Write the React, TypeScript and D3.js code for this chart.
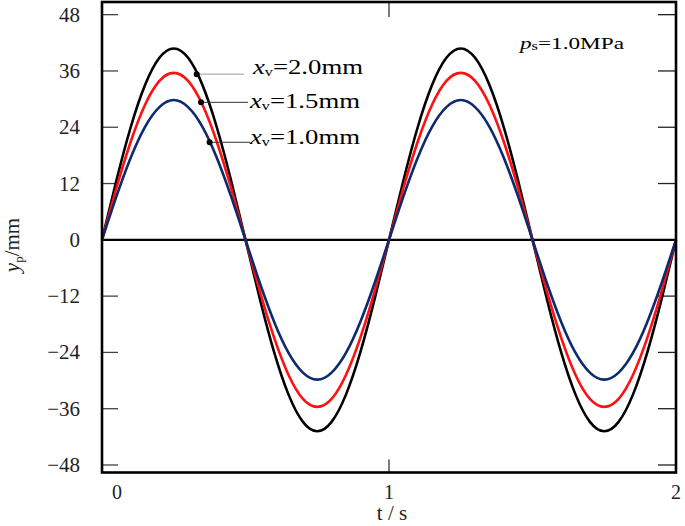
import React from "react";
import * as d3 from "d3";

const tValues = [
  0, 0.05, 0.1, 0.15, 0.2, 0.25, 0.3, 0.35, 0.4, 0.45, 0.5, 0.55, 0.6, 0.65, 0.7, 0.75, 0.8, 0.85, 0.9, 0.95,
  1, 1.05, 1.1, 1.15, 1.2, 1.25, 1.3, 1.35, 1.4, 1.45, 1.5, 1.55, 1.6, 1.65, 1.7, 1.75, 1.8, 1.85, 1.9, 1.95, 2,
];
const ySeries20 = [
  0, 12.6, 24.0, 33.0, 38.8, 40.8, 38.8, 33.0, 24.0, 12.6, 0, -12.6, -24.0, -33.0, -38.8, -40.8, -38.8, -33.0, -24.0, -12.6,
  0, 12.6, 24.0, 33.0, 38.8, 40.8, 38.8, 33.0, 24.0, 12.6, 0, -12.6, -24.0, -33.0, -38.8, -40.8, -38.8, -33.0, -24.0, -12.6, 0,
];
const ySeries15 = [
  0, 11.0, 20.9, 28.8, 33.9, 35.6, 33.9, 28.8, 20.9, 11.0, 0, -11.0, -20.9, -28.8, -33.9, -35.6, -33.9, -28.8, -20.9, -11.0,
  0, 11.0, 20.9, 28.8, 33.9, 35.6, 33.9, 28.8, 20.9, 11.0, 0, -11.0, -20.9, -28.8, -33.9, -35.6, -33.9, -28.8, -20.9, -11.0, 0,
];
const ySeries10 = [
  0, 9.2, 17.5, 24.1, 28.3, 29.8, 28.3, 24.1, 17.5, 9.2, 0, -9.2, -17.5, -24.1, -28.3, -29.8, -28.3, -24.1, -17.5, -9.2,
  0, 9.2, 17.5, 24.1, 28.3, 29.8, 28.3, 24.1, 17.5, 9.2, 0, -9.2, -17.5, -24.1, -28.3, -29.8, -28.3, -24.1, -17.5, -9.2, 0,
];
const seriesNames = ["2.0mm", "1.5mm", "1.0mm"];
const seriesColors = ["#000000", "#ff1010", "#0c2a6e"];
const dotT = [0.33, 0.345, 0.375];
const yTicks = [-48, -36, -24, -12, 0, 12, 24, 36, 48];
const xTicks = [0, 1, 2];

const W = 685;
const H = 526;
const left = 102;
const right = 676;
const top = 2;
const bottom = 472.5;

export default function App() {
  const x = d3.scaleLinear().domain([0, 2]).range([left, right]);
  const y = d3.scaleLinear().domain([-49.6, 50.7]).range([bottom, top]);
  const line = d3
    .line<number>()
    .x((_, i) => x(tValues[i]))
    .y((d) => y(d))
    .curve(d3.curveNatural);
  const all = [ySeries20, ySeries15, ySeries10];
  const interp = (s: number[], t: number) => {
    const i = Math.min(Math.floor(t / 0.05), tValues.length - 2);
    const f = (t - tValues[i]) / (tValues[i + 1] - tValues[i]);
    return s[i] + (s[i + 1] - s[i]) * f;
  };
  const lineEnds = [244, 248, 250];
  const textX = [253, 250, 250];
  const textY = [74, 108, 144];
  const leaderColor = ["#9a9a9a", "#333", "#333"];
  const serif = "'Liberation Serif', 'Times New Roman', serif";

  return (
    <svg width={W} height={H} style={{ position: "absolute", left: 0, top: 0, background: "#fff" }} fontFamily={serif}>
      {yTicks.map((v) => (
        <g key={"yt" + v}>
          <line x1={left} x2={left + 16} y1={y(v)} y2={y(v)} stroke="#444" strokeWidth={1.3} />
          <line x1={right - 18} x2={right} y1={y(v)} y2={y(v)} stroke="#222" strokeWidth={1.3} />
          <text x={80} y={y(v) + 7} textAnchor="end" fontSize={21} fill="#222">
            {v < 0 ? "\u2212" + Math.abs(v) : String(v)}
          </text>
        </g>
      ))}
      {xTicks.map((v) => (
        <g key={"xt" + v}>
          <line x1={x(v)} x2={x(v)} y1={bottom} y2={bottom - 13} stroke="#333" strokeWidth={1.3} />
          <line x1={x(v)} x2={x(v)} y1={top} y2={top + 15} stroke="#333" strokeWidth={1.3} />
          <text x={x(v) + (v === 0 ? 15 : 0)} y={499} textAnchor="middle" fontSize={20} fill="#222">
            {String(v)}
          </text>
        </g>
      ))}
      <line x1={left} x2={right} y1={y(0)} y2={y(0)} stroke="#000" strokeWidth={2.2} />
      {all.map((s, k) => (
        <path key={"c" + k} d={line(s) || ""} fill="none" stroke={seriesColors[k]} strokeWidth={2.6} />
      ))}
      <rect x={left} y={top} width={right - left} height={bottom - top} fill="none" stroke="#000" strokeWidth={2.6} />
      {all.map((s, k) => {
        const cx = x(dotT[k]);
        const cy = y(interp(s, dotT[k]));
        return (
          <g key={"a" + k}>
            <line x1={cx} x2={lineEnds[k]} y1={cy} y2={cy} stroke={leaderColor[k]} strokeWidth={1} />
            <circle cx={cx} cy={cy} r={3} fill="#000" />
            <text x={textX[k]} y={textY[k]} fontSize={20} fill="#000" textLength={110} lengthAdjust="spacingAndGlyphs">
              <tspan fontStyle="italic">x</tspan>
              <tspan fontSize={12} dy={2}>v</tspan>
              <tspan dy={-2}>{"=" + seriesNames[k]}</tspan>
            </text>
          </g>
        );
      })}
      <text x={520} y={49} fontSize={17} fill="#000" textLength={104} lengthAdjust="spacingAndGlyphs">
        <tspan fontStyle="italic">p</tspan>
        <tspan fontSize={12} dy={1}>s</tspan>
        <tspan dy={-1}>=1.0MPa</tspan>
      </text>
      <text transform="translate(19,245) rotate(-90)" textAnchor="middle" fontSize={21} fill="#222">
        <tspan fontStyle="italic">y</tspan>
        <tspan fontSize={13} dy={4}>p</tspan>
        <tspan dy={-4}>/mm</tspan>
      </text>
      <text x={392} y={520} textAnchor="middle" fontSize={21} fill="#222">
        t / s
      </text>
    </svg>
  );
}
